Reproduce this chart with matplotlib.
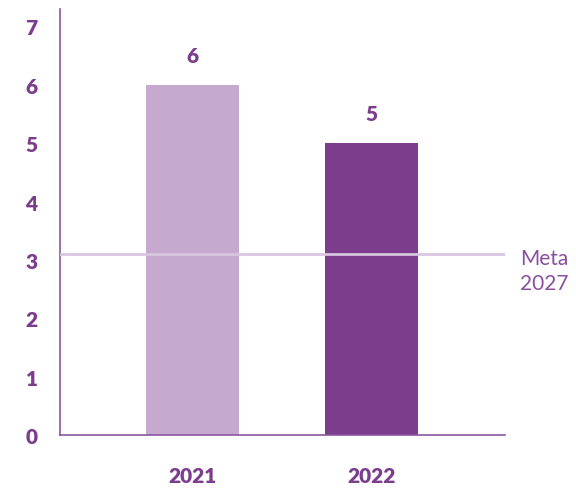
import matplotlib
matplotlib.use('Agg')
import matplotlib.pyplot as plt

years = ['2021', '2022']
values = [6, 5]
bar_colors = ['#C5A9CE', '#7B3D8C']
meta_value = 3.1
meta_label = 'Meta\n2027'

plt.rcParams['font.family'] = ['Lato', 'DejaVu Sans']
purple = '#7B3D8C'

fig = plt.figure(figsize=(5.76, 4.89), dpi=100)
ax = fig.add_axes([0.104, 0.108, 0.773, 0.872])

x = list(range(len(years)))
bars = ax.bar(x, values, width=0.52, color=bar_colors, zorder=2)
for xi, v in zip(x, values):
    ax.text(xi, v + 0.34, str(v), ha='center', va='bottom', fontsize=15,
            fontweight='heavy', color=purple)

ax.axhline(meta_value, color='#D8C5DF', linewidth=2, zorder=3)
ax.text(1.83, meta_value - 0.28, meta_label, ha='left', va='center', fontsize=15,
        color='#8A4F9E', linespacing=1.3, clip_on=False)

ax.set_xlim(-0.74, 1.746)
ax.set_ylim(0, 7.3)
ax.set_yticks(range(0, 8))
ax.set_xticks(x)
ax.set_xticklabels(years)
ax.tick_params(axis='both', length=0, labelsize=15, labelcolor=purple)
ax.tick_params(axis='y', pad=16)
ax.tick_params(axis='x', pad=22)
for lab in ax.get_xticklabels() + ax.get_yticklabels():
    lab.set_fontweight('heavy')

for s in ['top', 'right']:
    ax.spines[s].set_visible(False)
for s in ['left', 'bottom']:
    ax.spines[s].set_color('#8B55A0')
    ax.spines[s].set_linewidth(1.2)

fig.savefig('out.png', dpi=100)
